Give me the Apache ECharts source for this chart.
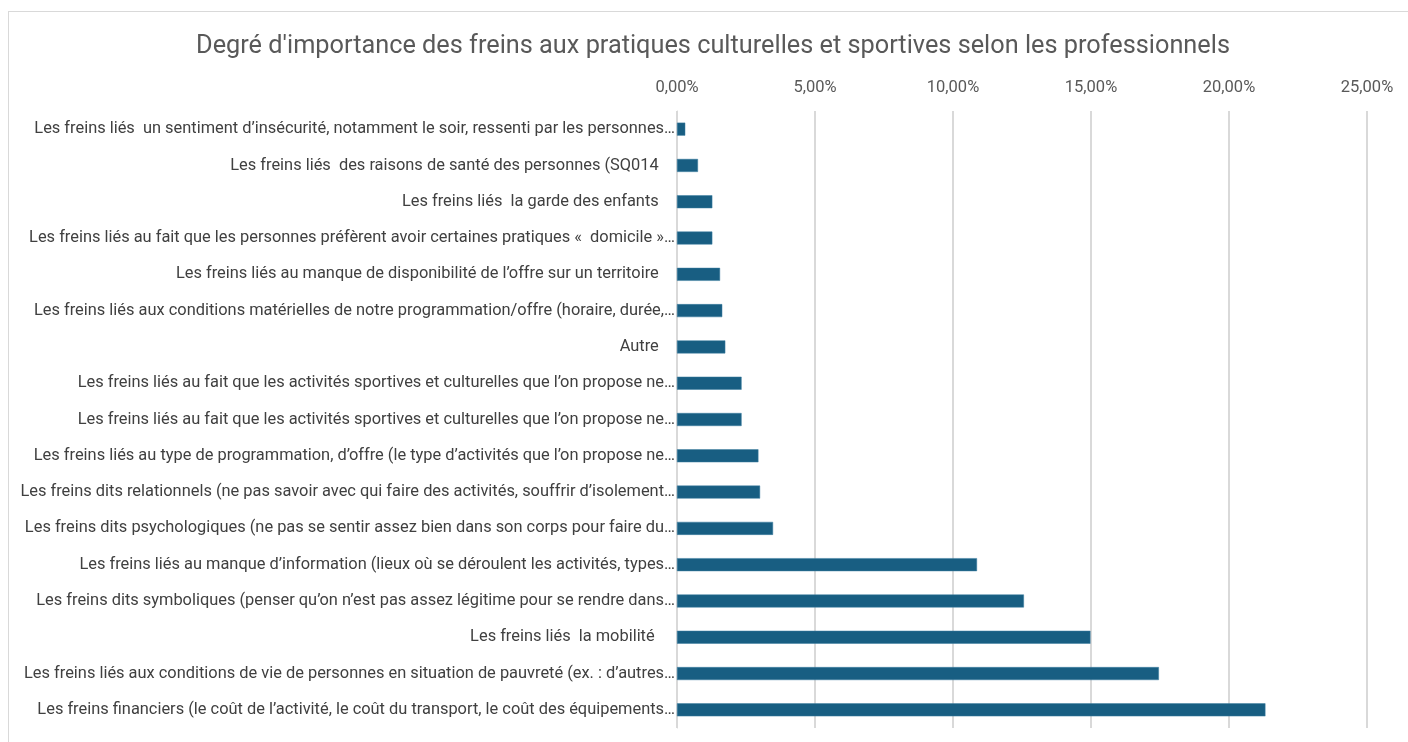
<!DOCTYPE html>
<html>
<head>
<meta charset="utf-8">
<script src="https://cdn.jsdelivr.net/npm/echarts@6/dist/echarts.min.js"></script>
<style>
  html, body { margin: 0; padding: 0; background: #fff; }
  #frame { position: absolute; left: 8px; top: 11px; width: 1410px; height: 740px;
           border-left: 1px solid #d9d9d9; border-top: 1px solid #d9d9d9; }
  #chart { position: absolute; left: 0; top: 0; width: 1408px; height: 742px; }
</style>
</head>
<body>
<div id="frame"></div>
<div id="chart"></div>
<script>
// libellés (tronqués comme dans Excel)
var categories = [
    "Les freins liés  un sentiment d’insécurité, notamment le soir, ressenti par les personnes…",
    "Les freins liés  des raisons de santé des personnes (SQ014    ",
    "Les freins liés  la garde des enfants    ",
    "Les freins liés au fait que les personnes préfèrent avoir certaines pratiques «  domicile »…",
    "Les freins liés au manque de disponibilité de l’offre sur un territoire    ",
    "Les freins liés aux conditions matérielles de notre programmation/offre (horaire, durée,…",
    "Autre    ",
    "Les freins liés au fait que les activités sportives et culturelles que l’on propose ne…",
    "Les freins liés au fait que les activités sportives et culturelles que l’on propose ne…",
    "Les freins liés au type de programmation, d’offre (le type d’activités que l’on propose ne…",
    "Les freins dits relationnels (ne pas savoir avec qui faire des activités, souffrir d’isolement…",
    "Les freins dits psychologiques (ne pas se sentir assez bien dans son corps pour faire du…",
    "Les freins liés au manque d’information (lieux où se déroulent les activités, types…",
    "Les freins dits symboliques (penser qu’on n’est pas assez légitime pour se rendre dans…",
    "Les freins liés  la mobilité     ",
    "Les freins liés aux conditions de vie de personnes en situation de pauvreté (ex. : d’autres…",
    "Les freins financiers (le coût de l’activité, le coût du transport, le coût des équipements…"
];
// en %
var values = [0.30, 0.76, 1.28, 1.28, 1.56, 1.64, 1.75, 2.34, 2.34, 2.95, 3.01, 3.48,
              10.87, 12.57, 14.98, 17.46, 21.32];
var xTicks = [0, 5, 10, 15, 20, 25];

var font = "Roboto, sans-serif";

var myChart = echarts.init(document.getElementById('chart'));
var option = {
    animation: false,
    title: {
        text: "Degré d'importance des freins aux pratiques culturelles et sportives selon les professionnels",
        left: 708, textAlign: 'center', top: 29,
        textStyle: { fontFamily: font, fontSize: 25.3, fontWeight: 'normal', color: '#595959' }
    },
    grid: { left: 677, right: 41, top: 111, bottom: 14 },
    xAxis: {
        type: 'value', position: 'top',
        min: xTicks[0], max: xTicks[xTicks.length - 1], interval: 5,
        axisLine: { show: false }, axisTick: { show: false },
        splitLine: { lineStyle: { color: '#d9d9d9', width: 2 } },
        axisLabel: {
            margin: 15, fontFamily: font, fontSize: 16.5, color: '#595959',
            formatter: function (v) { return v.toFixed(2).replace('.', ',') + '%'; }
        }
    },
    yAxis: {
        type: 'category', inverse: true, data: categories,
        axisLine: { lineStyle: { color: '#d9d9d9', width: 1 } },
        axisTick: { length: 5, lineStyle: { color: '#d9d9d9' } },
        axisLabel: { margin: 2, fontFamily: font, fontSize: 16.4, color: '#404040' }
    },
    series: [{
        type: 'bar', data: values, barWidth: 13,
        itemStyle: { color: '#185e82', borderColor: '#3c7ea0', borderWidth: 0.5 }
    }]
};
myChart.setOption(option);
</script>
</body>
</html>
